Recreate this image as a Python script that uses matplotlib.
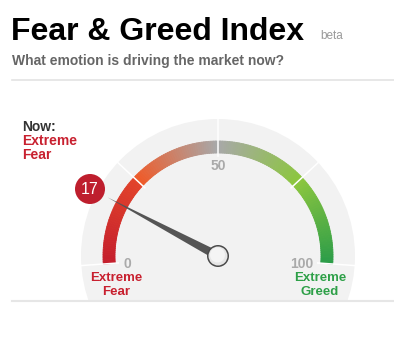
import numpy as np
import matplotlib
matplotlib.use("Agg")
import matplotlib.pyplot as plt
from matplotlib.patches import Wedge, Circle, Polygon, Rectangle
from matplotlib.colors import to_rgb

plt.rcParams['font.family'] = ['Liberation Sans', 'DejaVu Sans']

# data
index_value = 17
tick_values = [0, 50, 100]
tick_labels = ["0", "50", "100"]
segment_bounds = [0, 25, 50, 75, 100]
segment_start_colors = ["#c41e2c", "#f05a28", "#a8a8a8", "#8cc63f"]
segment_end_colors = ["#e2432b", "#a8a8a8", "#8cc63f", "#2c9d48"]
now_label = ["Extreme", "Fear"]
left_label = ["Extreme", "Fear"]
right_label = ["Extreme", "Greed"]

W, H = 394, 340
cx, cy = 218, H - 256
r_bg = 137
r_out, r_in = 115, 103
a_start, a_span = 184, 188


def ang(v):
    return a_start - v / 100 * a_span


def py(y):
    return H - y


def mix(c1, c2, t):
    a, b = np.array(to_rgb(c1)), np.array(to_rgb(c2))
    return a + (b - a) * t


fig = plt.figure(figsize=(W / 100, H / 100), dpi=100)
ax = fig.add_axes([0, 0, 1, 1])
ax.set_xlim(0, W)
ax.set_ylim(0, H)
ax.set_aspect("equal")
ax.axis("off")

# title block
ax.text(11, py(40), "Fear & Greed Index", fontsize=23, fontweight="bold",
        color="#000000", va="baseline", ha="left")
ax.text(320, py(39), "beta", fontsize=8.5, color="#9a9a9a", va="baseline")
ax.text(12, py(65), "What emotion is driving the market now?", fontsize=10,
        fontweight="bold", color="#666666", va="baseline")
ax.plot([12, W], [py(80), py(80)], color="#e3e3e3", lw=1.2)

# now label
ax.text(22, py(131), "Now:", fontsize=10, fontweight="bold", color="#333333", va="baseline")
ax.text(22, py(145), now_label[0], fontsize=10, fontweight="bold", color="#c8202f", va="baseline")
ax.text(22, py(159), now_label[1], fontsize=10, fontweight="bold", color="#c8202f", va="baseline")

# background disc
ax.add_patch(Circle((cx, cy), r_bg, facecolor="#f2f2f2", edgecolor="none", zorder=1))
ax.add_patch(Rectangle((0, 0), W, py(302), facecolor="white", edgecolor="none", zorder=2))
ax.plot([12, W], [py(301), py(301)], color="#e6e6e6", lw=1.5, zorder=3)

# coloured arc
steps = 40
for i in range(len(segment_start_colors)):
    v0, v1 = segment_bounds[i], segment_bounds[i + 1]
    vs = np.linspace(v0, v1, steps + 1)
    for j in range(steps):
        col = mix(segment_start_colors[i], segment_end_colors[i], j / (steps - 1))
        ax.add_patch(Wedge((cx, cy), r_out, ang(vs[j + 1]), ang(vs[j]) + 0.05,
                           width=r_out - r_in, facecolor=col, edgecolor=col,
                           lw=0.6, zorder=4))

# separators
for v in segment_bounds:
    t = np.radians(ang(v))
    ax.plot([cx + 100 * np.cos(t), cx + r_bg * np.cos(t)],
            [cy + 100 * np.sin(t), cy + r_bg * np.sin(t)],
            color="white", lw=1.1, zorder=5)

# tick labels
for v, lab in zip(tick_values, tick_labels):
    t = np.radians(ang(v))
    x = cx + 90 * np.cos(t)
    y = cy + 90 * np.sin(t)
    if v == 0:
        x, y = 127, py(264)
    elif v == 100:
        x, y = 302, py(264)
    ax.text(x, y, lab, fontsize=10, fontweight="bold", color="#aaaaaa",
            ha="center", va="center", zorder=6)

ax.text(116, py(278), left_label[0], fontsize=9.5, fontweight="bold", color="#c8202f",
        ha="center", va="center", zorder=6)
ax.text(116, py(292), left_label[1], fontsize=9.5, fontweight="bold", color="#c8202f",
        ha="center", va="center", zorder=6)
ax.text(320, py(278), right_label[0], fontsize=9.5, fontweight="bold", color="#2ea048",
        ha="center", va="center", zorder=6)
ax.text(320, py(292), right_label[1], fontsize=9.5, fontweight="bold", color="#2ea048",
        ha="center", va="center", zorder=6)

# needle
t = np.radians(ang(index_value))
tip = (cx + 125 * np.cos(t), cy + 125 * np.sin(t))
nx, ny = -np.sin(t), np.cos(t)
hw = 4.5
ax.add_patch(Polygon([tip, (cx + hw * nx, cy + hw * ny), (cx - hw * nx, cy - hw * ny)],
                     closed=True, facecolor="#555555", edgecolor="none", zorder=7))
ax.add_patch(Circle((cx, cy), 11, facecolor="#4a4a4a", edgecolor="none", zorder=8))
ax.add_patch(Circle((cx, cy), 9.5, facecolor="#e6e6e6", edgecolor="none", zorder=9))
ax.add_patch(Circle((cx - 0.5, cy + 1.0), 7.5, facecolor="#f4f4f4", edgecolor="none", zorder=10))

# value bubble
bx, by = 90, py(189)
ax.add_patch(Circle((bx, by), 15, facecolor="#be1e2d", edgecolor="none", zorder=11))
ax.text(bx, by, str(index_value), fontsize=11.5, color="white", ha="center",
        va="center", zorder=12)

fig.savefig("out.png", dpi=100)
